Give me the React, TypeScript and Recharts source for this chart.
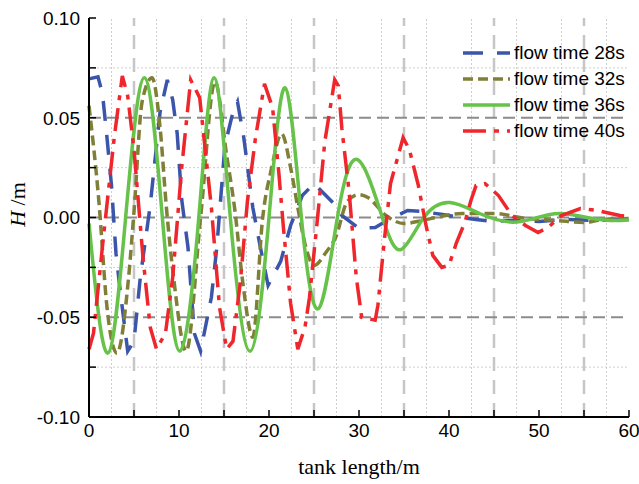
import React from "react";
import { LineChart, Line, XAxis, YAxis, ReferenceLine } from "recharts";

const SANS = '"Liberation Sans", Arial, sans-serif';
const SERIF = '"Liberation Serif", "Times New Roman", serif';

// axis ticks and labels
const X_TICKS = [0, 5, 10, 15, 20, 25, 30, 35, 40, 45, 50, 55, 60];
const X_LABELS = [0, 10, 20, 30, 40, 50, 60];
const Y_TICKS = [-0.1, -0.075, -0.05, -0.025, 0, 0.025, 0.05, 0.075, 0.1];
const Y_LABELS = [-0.1, -0.05, 0, 0.05, 0.1];

// grid lines
const X_DOTTED = [2.5, 7.5, 12.5, 17.5, 22.5, 27.5, 32.5, 37.5, 42.5, 47.5, 52.5, 57.5];
const X_DASHED = [5, 15, 25, 35, 45, 55];
const Y_DOTTED = [0.075, 0.025, -0.025, -0.075];
const Y_DASHED = [0.05, 0, -0.05];

// flow time 28s
const T28_X = [0, 1.0, 1.5, 2.0, 2.5, 3.0, 3.5, 4.3, 5.0, 5.7, 6.8, 7.9, 8.7, 9.3, 9.8, 10.3, 11.0, 11.7, 12.4, 13.6, 14.2, 15.1, 16.0, 16.5, 17.2, 18.2, 19.0, 19.9, 21.3, 22.4, 23.7, 25.0, 27.1, 28.1, 30.0, 31.8, 33.3, 35.4, 37.0, 39.3, 41.2, 43, 45, 47, 50, 53, 56, 60];
const T28_H = [0.0695, 0.0705, 0.062, 0.04, 0.016, -0.018, -0.038, -0.067, -0.062, -0.03, 0.006, 0.053, 0.069, 0.059, 0.042, 0.009, -0.015, -0.058, -0.067, -0.04, -0.015, 0.036, 0.053, 0.058, 0.04, 0.005, -0.014, -0.034, -0.022, -0.004, 0.011, 0.017, 0.0075, 0.001, -0.0055, -0.005, -0.001, 0.0035, 0.003, 0.0015, 0, -0.001, -0.002, -0.0015, -0.002, -0.001, -0.0015, -0.001];

// flow time 32s
const T32_X = [0, 1.1, 2.0, 3.1, 4.4, 5.0, 5.9, 7.0, 7.9, 8.6, 9.4, 10.8, 12.4, 14.0, 15.3, 16.2, 17.1, 18.2, 19.3, 20.3, 21.4, 22.4, 23.2, 24.1, 25.0, 26.4, 27.4, 28.7, 30.0, 31.0, 33.0, 35.0, 37.0, 39.0, 41.5, 45.0, 48.5, 52.0, 55.0, 57.0, 60];
const T32_H = [0.056, 0.008, -0.045, -0.068, -0.03, 0.003, 0.058, 0.07, 0.045, 0.005, -0.03, -0.067, 0.0, 0.068, 0.031, 0.004, -0.033, -0.06, 0.0, 0.025, 0.042, 0.025, 0.005, -0.015, -0.024, -0.017, -0.01, 0.008, 0.0115, 0.01, 0.001, -0.003, -0.0015, 0.0005, 0.002, 0.002, -0.0005, -0.0015, -0.0025, -0.001, -0.0005];

// flow time 36s
const T36_X = [0, 2.07, 4.07, 6.15, 8.15, 10.1, 12.2, 13.9, 15.7, 17.9, 20.0, 21.8, 23.6, 25.5, 27.6, 29.85, 32.6, 34.7, 37.2, 40.1, 43.4, 46.8, 49.4, 52.3, 55.3, 57.9, 60];
const T36_H = [-0.003, -0.068, 0, 0.07, 0, -0.067, 0, 0.07, 0, -0.067, 0, 0.065, 0, -0.0457, 0, 0.029, 0, -0.016, 0, 0.0075, 0.002, -0.0023, -0.0005, 0.002, 0.0, -0.0015, -0.0012];

// flow time 40s
const T40_X = [0, 0.5, 1.6, 2.8, 3.7, 4.3, 5.0, 6.0, 6.8, 7.5, 8.5, 9.3, 10.3, 11.3, 12.3, 13.6, 14.5, 15.3, 16.0, 16.8, 17.6, 18.5, 19.5, 20.4, 21.1, 21.6, 22.4, 23.2, 24.0, 24.5, 25.4, 26.2, 27.3, 27.7, 28.1, 28.9, 29.7, 30.3, 31.8, 32.1, 32.8, 33.5, 34.9, 35.6, 36.6, 37.4, 38.2, 39.2, 40.0, 40.8, 41.8, 42.4, 43.0, 44.0, 45.5, 47.0, 48.5, 49.9, 51.0, 52.5, 54.6, 56.5, 59, 60];
const T40_H = [-0.066, -0.058, -0.01, 0.04, 0.071, 0.061, 0.034, -0.02, -0.055, -0.066, -0.058, -0.03, 0.025, 0.069, 0.06, 0.005, -0.045, -0.066, -0.062, -0.033, 0.008, 0.04, 0.067, 0.055, 0.022, -0.005, -0.043, -0.066, -0.055, -0.04, 0.0, 0.038, 0.069, 0.066, 0.0445, 0.013, -0.03, -0.05, -0.0515, -0.044, -0.012, 0.017, 0.04, 0.034, 0.016, -0.003, -0.019, -0.025, -0.024, -0.013, -0.002, 0.008, 0.016, 0.017, 0.011, 0.001, -0.004, -0.0075, -0.005, 0.001, 0.0045, 0.0035, 0.001, 0.0005];

const toPoints = (xs: number[], hs: number[]) => xs.map((x, i) => ({ x, h: hs[i] }));

const SERIES = [
  { name: "flow time 28s", pts: toPoints(T28_X, T28_H), color: "#3b55ab", dash: "20 14", curve: "linear" },
  { name: "flow time 32s", pts: toPoints(T32_X, T32_H), color: "#7f7f37", dash: "10 5", curve: "monotone" },
  { name: "flow time 36s", pts: toPoints(T36_X, T36_H), color: "#67c24a", dash: undefined, curve: "natural" },
  { name: "flow time 40s", pts: toPoints(T40_X, T40_H), color: "#ef262b", dash: "23 8 5 8", curve: "linear" },
];

const near = (list: number[], v: number) => list.some((l) => Math.abs(l - v) < 1e-9);

function BottomTick({ x, y, payload }: any) {
  return (
    <g>
      <line x1={x} x2={x} y1={y} y2={y - 7} stroke="#000" strokeWidth={1.5} />
      {near(X_LABELS, payload.value) && (
        <text x={x} y={y + 20} textAnchor="middle" fontSize={19} fontFamily={SANS} fill="#000">
          {payload.value}
        </text>
      )}
    </g>
  );
}

function TopTick({ x, y }: any) {
  return <line x1={x} x2={x} y1={y} y2={y + 6} stroke="#000" strokeWidth={1.5} />;
}

function LeftTick({ x, y, payload }: any) {
  return (
    <g>
      <line x1={x} x2={x + 7} y1={y} y2={y} stroke="#000" strokeWidth={1.5} />
      {near(Y_LABELS, payload.value) && (
        <text x={x - 9} y={y} dy="0.36em" textAnchor="end" fontSize={19} fontFamily={SANS} fill="#000">
          {payload.value.toFixed(2)}
        </text>
      )}
    </g>
  );
}

function RightTick({ x, y }: any) {
  return <line x1={x} x2={x - 6} y1={y} y2={y} stroke="#000" strokeWidth={1.5} />;
}

function XTitle(props: any) {
  const vb = props.viewBox || { x: 89, y: 417, width: 540, height: 67 };
  return (
    <text x={vb.x + vb.width / 2} y={vb.y + 57} textAnchor="middle" fontSize={22} fontFamily={SERIF} fill="#000">
      tank length/m
    </text>
  );
}

function YTitle(props: any) {
  const vb = props.viewBox || { x: 0, y: 18, width: 89, height: 399 };
  const cx = vb.x + 25;
  const cy = vb.y + vb.height / 2 - 13;
  return (
    <text x={cx} y={cy} transform={`rotate(-90, ${cx}, ${cy})`} textAnchor="middle" fontSize={22} fontFamily={SERIF} fill="#000">
      <tspan fontStyle="italic">H</tspan>
      <tspan> /m</tspan>
    </text>
  );
}

function LegendBox() {
  return (
    <div style={{ position: "absolute", left: 463, top: 40, fontFamily: SANS, fontSize: 19, color: "#000" }}>
      {SERIES.map((s) => (
        <div key={s.name} style={{ display: "flex", alignItems: "center", height: 26 }}>
          <svg width={47} height={8} style={{ display: "block" }}>
            <line x1={0} x2={47} y1={4} y2={4} stroke={s.color} strokeWidth={3.5} strokeDasharray={s.dash} />
          </svg>
          <span style={{ marginLeft: 4, whiteSpace: "nowrap" }}>{s.name}</span>
        </div>
      ))}
    </div>
  );
}

export default function App() {
  const axisLine = { stroke: "#000", strokeWidth: 2 };
  return (
    <div style={{ position: "absolute", left: 0, top: 0, width: 639, height: 484, background: "#fff" }}>
      <LineChart width={639} height={484} margin={{ top: 18, right: 10, bottom: 0, left: 0 }}>
        {X_DOTTED.map((v) => (
          <ReferenceLine key={`xd${v}`} x={v} stroke="#cfcfcf" strokeWidth={1} strokeDasharray="2 2" />
        ))}
        {Y_DOTTED.map((v) => (
          <ReferenceLine key={`yd${v}`} y={v} stroke="#cfcfcf" strokeWidth={1} strokeDasharray="2 2" />
        ))}
        {X_DASHED.map((v) => (
          <ReferenceLine key={`xg${v}`} x={v} stroke="#c6c6c6" strokeWidth={2.5} strokeDasharray="14 9" />
        ))}
        {Y_DASHED.map((v) => (
          <ReferenceLine key={`yg${v}`} y={v} stroke="#8c8c8c" strokeWidth={2} strokeDasharray="12 6" />
        ))}
        <XAxis
          dataKey="x"
          type="number"
          domain={[0, 60]}
          ticks={X_TICKS}
          interval={0}
          height={67}
          tickSize={0}
          tickMargin={0}
          tickLine={false}
          axisLine={axisLine}
          tick={(p: any) => <BottomTick {...p} />}
          label={{ content: (p: any) => <XTitle {...p} /> }}
        />
        <XAxis
          xAxisId="top"
          orientation="top"
          dataKey="x"
          type="number"
          domain={[0, 60]}
          ticks={X_TICKS}
          interval={0}
          height={0}
          tickSize={0}
          tickMargin={0}
          tickLine={false}
          axisLine={axisLine}
          tick={(p: any) => <TopTick {...p} />}
        />
        <YAxis
          type="number"
          domain={[-0.1, 0.1]}
          ticks={Y_TICKS}
          interval={0}
          width={89}
          tickSize={0}
          tickMargin={0}
          tickLine={false}
          axisLine={axisLine}
          tick={(p: any) => <LeftTick {...p} />}
          label={{ content: (p: any) => <YTitle {...p} /> }}
        />
        <YAxis
          yAxisId="right"
          orientation="right"
          type="number"
          domain={[-0.1, 0.1]}
          ticks={Y_TICKS}
          interval={0}
          width={0}
          tickSize={0}
          tickMargin={0}
          tickLine={false}
          axisLine={axisLine}
          tick={(p: any) => <RightTick {...p} />}
        />
        {SERIES.map((s) => (
          <Line
            key={s.name}
            name={s.name}
            data={s.pts}
            dataKey="h"
            type={s.curve as any}
            stroke={s.color}
            strokeWidth={3.5}
            strokeDasharray={s.dash}
            dot={false}
            activeDot={false}
            isAnimationActive={false}
          />
        ))}
      </LineChart>
      <LegendBox />
    </div>
  );
}
